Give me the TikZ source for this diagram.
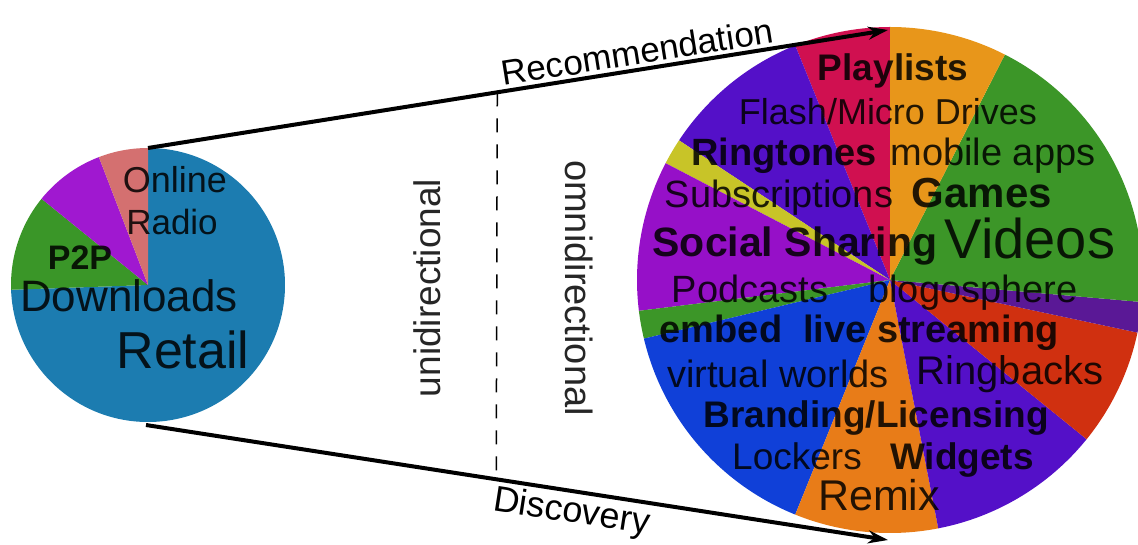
\documentclass[tikz,border=0pt]{standalone}
\usepackage{fontspec}
\setmainfont{Liberation Sans}
\usetikzlibrary{arrows.meta}

\definecolor{retailblue}{RGB}{28,124,176}
\definecolor{ptwopgreen}{RGB}{58,150,40}
\definecolor{radiopurple}{RGB}{160,24,208}
\definecolor{radiopink}{RGB}{212,112,112}
\definecolor{slcrimson}{RGB}{208,16,80}
\definecolor{slviolet}{RGB}{84,16,200}
\definecolor{slyellow}{RGB}{200,196,40}
\definecolor{slmagenta}{RGB}{150,16,200}
\definecolor{slgreen}{RGB}{60,150,40}
\definecolor{slblue}{RGB}{16,64,216}
\definecolor{slgold}{RGB}{232,150,26}
\definecolor{slorange}{RGB}{232,124,24}
\definecolor{slred}{RGB}{208,48,16}
\definecolor{sldark}{RGB}{90,24,150}

\newcommand{\fsz}[1]{\fontsize{#1}{#1}\selectfont}
\newcommand{\pieslice}[5]{\fill[#5] (#1) -- ++(#3:#2) arc[start angle=#3, end angle=#4, radius=#2] -- cycle;}

\begin{document}
\begin{tikzpicture}[x=1pt,y=1pt,
    lbl/.style={inner sep=0pt, anchor=mid, text=black, text opacity=0.85},
    conn/.style={line width=4pt, -{Stealth[length=20pt,width=13pt]}}]
    \useasboundingbox (0,0) rectangle (1138,544);
    \coordinate (lpie) at (148,259);
    \coordinate (rpie) at (890,264);

    % small pie
    \pieslice{lpie}{137}{182}{450}{retailblue}
    \pieslice{lpie}{137}{141}{182}{ptwopgreen}
    \pieslice{lpie}{137}{111}{141}{radiopurple}
    \pieslice{lpie}{137}{90}{111}{radiopink}

    % big pie
    \begin{scope}
        \clip (0,0) rectangle (1138,544);
        \pieslice{rpie}{253}{90}{112}{slcrimson}
        \pieslice{rpie}{253}{112}{146.5}{slviolet}
        \pieslice{rpie}{253}{146.5}{152.5}{slyellow}
        \pieslice{rpie}{253}{152.5}{187}{slmagenta}
        \pieslice{rpie}{253}{187}{193.4}{slgreen}
        \pieslice{rpie}{253}{193.4}{248}{slblue}
        \pieslice{rpie}{253}{248}{281}{slorange}
        \pieslice{rpie}{253}{281}{321}{slviolet}
        \pieslice{rpie}{253}{321}{348}{slred}
        \pieslice{rpie}{253}{348}{355}{sldark}
        \pieslice{rpie}{253}{355}{423}{slgreen}
        \pieslice{rpie}{253}{423}{450}{slgold}
    \end{scope}

    \node[lbl, font=\fsz{36}] (online) at (175,354) {Online};
    \node[lbl, font=\fsz{35}] (radio) at (172,312) {Radio};
    \node[lbl, font=\bfseries\fsz{34}] (ptwop) at (80,277) {P2P};
    \node[lbl, font=\fsz{44}] (downloads) at (129,235) {Downloads};
    \node[lbl, font=\fsz{52}] (retail) at (183,178) {Retail};

    \node[lbl, font=\bfseries\fsz{37}] (playlists) at (893,466) {Playlists};
    \node[lbl, font=\fsz{36}] (flash) at (888,422) {Flash/Micro Drives};
    \node[lbl, font=\bfseries\fsz{38}] (ringtones) at (784,381) {Ringtones};
    \node[lbl, font=\fsz{38}] (mobile) at (993,381) {mobile apps};
    \node[lbl, font=\fsz{38}] (subscr) at (779,339) {Subscriptions};
    \node[lbl, font=\bfseries\fsz{42}] (games) at (982,339) {Games};
    \node[lbl, font=\bfseries\fsz{41}] (social) at (795,290) {Social Sharing};
    \node[lbl, font=\fsz{56}] (videos) at (1030,288) {Videos};
    \node[lbl, font=\fsz{38}] (podcasts) at (750,244) {Podcasts};
    \node[lbl, font=\fsz{38}] (blogo) at (973,244) {blogosphere};
    \node[lbl, font=\bfseries\fsz{38}] (embed) at (721,204) {embed};
    \node[lbl, font=\bfseries\fsz{38}] (live) at (931,204) {live streaming};
    \node[lbl, font=\fsz{38}] (virtual) at (778,159) {virtual worlds};
    \node[lbl, font=\fsz{40}] (ringbacks) at (1010,162) {Ringbacks};
    \node[lbl, font=\bfseries\fsz{37}] (branding) at (876,119) {Branding/Licensing};
    \node[lbl, font=\fsz{37}] (lockers) at (797,77) {Lockers};
    \node[lbl, font=\bfseries\fsz{37}] (widgets) at (962,77) {Widgets};
    \node[lbl, font=\fsz{43}] (remix) at (879,36) {Remix};

    % arrows between the pies
    \coordinate (ltop) at (148,396);
    \coordinate (lbot) at (146,119);
    \coordinate (rtop) at (888,514);
    \coordinate (rbot) at (888,4);
    \draw[conn] (ltop) -- (rtop)
        coordinate[pos=0.472] (dtop)
        node[pos=0.665, above=3pt, sloped, inner sep=0pt, font=\fsz{35}] (recomm) {Recommendation};
    \draw[conn] (lbot) -- (rbot)
        coordinate[pos=0.472] (dbot)
        node[pos=0.578, below=3pt, sloped, inner sep=0pt, font=\fsz{36}] (discov) {Discovery};
    \draw[line width=1.5pt, dash pattern=on 14pt off 12pt] (dtop) -- (dbot);

    \node[lbl, font=\fsz{37}, rotate=90] (uni) at (438,256) {unidirectional};
    \node[lbl, font=\fsz{38}, rotate=-90] (omni) at (568,256) {omnidirectional};
\end{tikzpicture}
\end{document}
